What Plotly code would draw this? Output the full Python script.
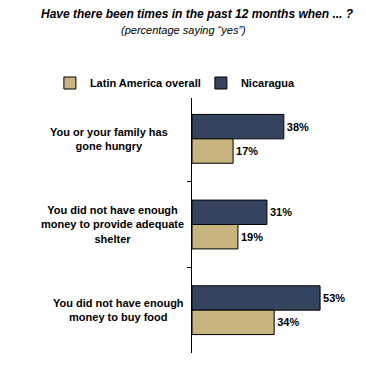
import plotly.graph_objects as go

categories = ["You or your family has gone hungry",
              "You did not have enough money to provide adequate shelter",
              "You did not have enough money to buy food"]
category_labels = ["You or your family has<br>gone hungry",
                   "You did not have enough<br>money to provide adequate<br>shelter",
                   "You did not have enough<br>money to buy food"]
nicaragua = [38, 31, 53]
latin_america = [17, 19, 34]
title_text = "Have there been times in the past 12 months when ... ?"
subtitle_text = "(percentage saying “yes”)"

FONT = "Liberation Sans, Arial, sans-serif"

fig = go.Figure()
fig.add_trace(go.Bar(
    y=categories, x=nicaragua, orientation="h", name="<b>Nicaragua</b>",
    marker=dict(color="#35445E", line=dict(color="black", width=1)),
    text=[f"<b>{v}%</b>" for v in nicaragua], textposition="outside",
    textfont=dict(family=FONT, size=11, color="black"),
    cliponaxis=False, legendrank=2,
))
fig.add_trace(go.Bar(
    y=categories, x=latin_america, orientation="h", name="<b>Latin America overall</b>",
    marker=dict(color="#C8B47E", line=dict(color="black", width=1)),
    text=[f"<b>{v}%</b>" for v in latin_america], textposition="outside",
    textfont=dict(family=FONT, size=11, color="black"),
    cliponaxis=False, legendrank=1,
))

for cat, lab, cx in zip(categories, category_labels, (109, 112, 118)):
    fig.add_annotation(x=(cx - 192) / 145, xref="paper", y=cat, yref="y", text=f"<b>{lab}</b>",
                       showarrow=False, xanchor="center", yanchor="middle", align="center",
                       font=dict(family=FONT, size=11, color="black"))

fig.add_annotation(x=(197 - 192) / 145, xref="paper", y=(353 - 14) / 257, yref="paper",
                   text=f"<b><i>{title_text}</i></b>", showarrow=False,
                   xanchor="center", yanchor="middle",
                   font=dict(family=FONT, size=12, color="black"))
fig.add_annotation(x=(183 - 192) / 145, xref="paper", y=(353 - 30) / 257, yref="paper",
                   text=f"<i>{subtitle_text}</i>", showarrow=False,
                   xanchor="center", yanchor="middle",
                   font=dict(family=FONT, size=11, color="black"))

fig.update_layout(
    width=366, height=368,
    margin=dict(l=192, r=29, t=96, b=15, autoexpand=False),
    paper_bgcolor="white", plot_bgcolor="white",
    barmode="group", bargap=0.43, bargroupgap=0,
    font=dict(family=FONT, size=11, color="black"),
    legend=dict(orientation="h", x=-0.98, xanchor="left",
                y=(353 - 83) / 257, yanchor="middle",
                font=dict(family=FONT, size=11, color="black"),
                entrywidth=106, entrywidthmode="pixels", itemclick=False),
    showlegend=True,
)

fig.update_xaxes(range=[0, 60], visible=False, showgrid=False, zeroline=False)
fig.update_yaxes(autorange="reversed", showticklabels=False, showgrid=False,
                 ticks="outside", tickson="boundaries", ticklen=4, tickcolor="black",
                 showline=True, linecolor="black", linewidth=1)

fig.write_html("out.html", config={"displayModeBar": False},
               post_script="document.body.style.margin='0';document.body.style.overflow='hidden';")
